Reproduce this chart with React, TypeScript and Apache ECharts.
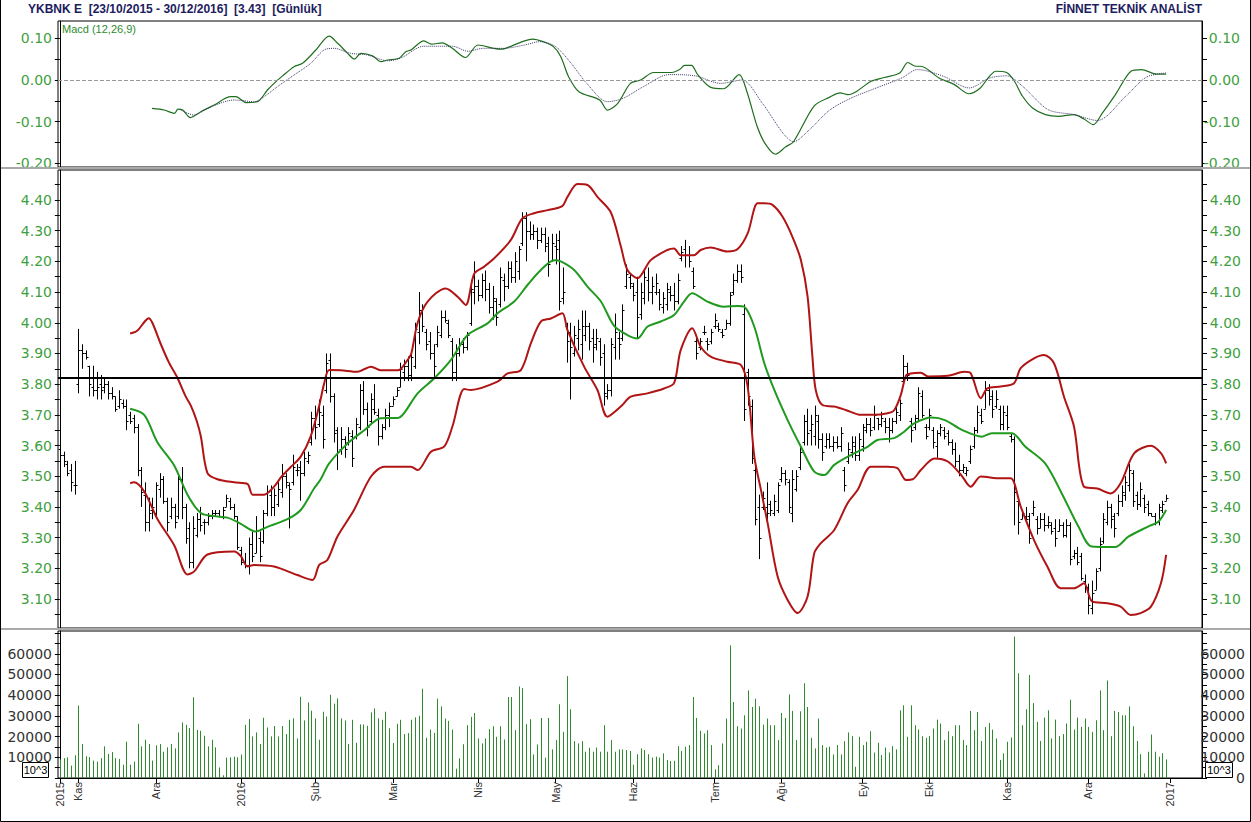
import React, { useEffect, useRef } from 'react';
import * as echarts from 'echarts';

// ---- x axis month ticks (trading-day index) ----
const monthTickIdx = [0, 5, 26, 49, 69, 90, 113, 134, 155, 177, 195, 217, 235, 256, 278, 300];
const monthTickLabels = ['2015', 'Kas', 'Ara', '2016', 'Şub', 'Mar', 'Nis', 'May', 'Haz', 'Tem', 'Ağu', 'Eyl', 'Eki', 'Kas', 'Ara', '2017'];

// ---- y axis ticks ----
const macdLabels = [0.1, 0, -0.1, -0.2];
const macdTicks = [0.1, 0.05, 0, -0.05, -0.1, -0.15, -0.2];
const priceLabels = [3.1, 3.2, 3.3, 3.4, 3.5, 3.6, 3.7, 3.8, 3.9, 4.0, 4.1, 4.2, 4.3, 4.4];
const priceTicks = [3.05, 3.1, 3.15, 3.2, 3.25, 3.3, 3.35, 3.4, 3.45, 3.5, 3.55, 3.6, 3.65, 3.7, 3.75, 3.8, 3.85, 3.9, 3.95, 4.0, 4.05, 4.1, 4.15, 4.2, 4.25, 4.3, 4.35, 4.4, 4.45];
const volLabelsLeft = [10000, 20000, 30000, 40000, 50000, 60000];
const volLabelsRight = [0, 10000, 20000, 30000, 40000, 50000, 60000];
const volTicks = [0, 5000, 10000, 15000, 20000, 25000, 30000, 35000, 40000, 45000, 50000, 55000, 60000, 65000, 70000];

const refLevel = 3.817;

// ---- daily OHLC ----
const openP = [
  3.59,3.57,3.54,3.52,3.47,3.80,3.91,3.90,3.86,3.79,
  3.78,3.80,3.79,3.80,3.77,3.76,3.73,3.74,3.73,3.70,
  3.69,3.66,3.52,3.44,3.35,3.39,3.38,3.46,3.49,3.42,
  3.37,3.40,3.37,3.49,3.40,3.33,3.22,3.31,3.36,3.35,
  3.35,3.37,3.38,3.38,3.37,3.40,3.42,3.40,3.37,3.26,
  3.22,3.21,3.28,3.25,3.30,3.29,3.38,3.44,3.40,3.41,
  3.45,3.50,3.47,3.48,3.52,3.53,3.51,3.55,3.61,3.69,
  3.67,3.70,3.78,3.88,3.76,3.65,3.59,3.62,3.61,3.63,
  3.63,3.66,3.78,3.72,3.68,3.72,3.70,3.63,3.66,3.70,
  3.73,3.76,3.79,3.84,3.86,3.83,3.86,3.97,4.04,3.97,
  3.94,3.90,3.93,3.96,4.02,4.00,3.94,3.84,3.90,3.93,
  3.92,4.00,4.10,4.12,4.09,4.14,4.11,4.05,4.07,4.06,
  4.14,4.12,4.18,4.15,4.17,4.26,4.34,4.30,4.29,4.30,
  4.27,4.29,4.26,4.20,4.25,4.27,4.08,3.99,3.97,3.90,
  3.95,3.93,3.96,3.99,3.95,3.93,3.94,3.90,3.76,3.78,
  3.92,3.95,3.95,4.12,4.15,4.12,4.10,4.03,4.08,4.14,
  4.10,4.10,4.10,4.05,4.06,4.10,4.09,4.07,4.21,4.24,
  4.22,4.17,3.94,3.92,3.97,3.94,3.94,3.99,3.99,3.97,
  3.98,4.00,4.10,4.14,4.17,4.03,3.84,3.73,3.52,3.40,
  3.40,3.40,3.41,3.38,3.39,3.49,3.51,3.48,3.38,3.46,
  3.53,3.61,3.68,3.65,3.63,3.68,3.62,3.60,3.62,3.60,
  3.61,3.60,3.52,3.55,3.58,3.60,3.57,3.60,3.65,3.67,
  3.66,3.69,3.67,3.68,3.66,3.65,3.68,3.70,3.81,3.86,
  3.68,3.66,3.69,3.76,3.66,3.66,3.65,3.60,3.64,3.65,
  3.64,3.61,3.59,3.55,3.52,3.51,3.55,3.60,3.65,3.70,
  3.72,3.78,3.76,3.73,3.72,3.67,3.70,3.63,3.62,3.42,
  3.36,3.37,3.37,3.38,3.36,3.33,3.36,3.34,3.34,3.33,
  3.32,3.34,3.31,3.34,3.24,3.25,3.24,3.16,3.14,3.07,
  3.13,3.20,3.29,3.35,3.40,3.37,3.38,3.42,3.44,3.47,
  3.51,3.44,3.41,3.43,3.41,3.38,3.37,3.35,3.39,3.42
];
const highP = [
  3.60,3.58,3.55,3.54,3.55,3.98,3.93,3.91,3.86,3.86,
  3.84,3.83,3.82,3.81,3.79,3.76,3.78,3.75,3.75,3.71,
  3.70,3.67,3.53,3.48,3.43,3.43,3.48,3.51,3.50,3.43,
  3.43,3.41,3.51,3.53,3.41,3.35,3.37,3.38,3.40,3.36,
  3.38,3.39,3.39,3.39,3.40,3.44,3.43,3.41,3.37,3.27,
  3.25,3.30,3.32,3.37,3.32,3.39,3.47,3.47,3.46,3.48,
  3.54,3.51,3.48,3.57,3.54,3.55,3.58,3.58,3.71,3.73,
  3.75,3.73,3.90,3.90,3.77,3.66,3.66,3.63,3.66,3.65,
  3.69,3.80,3.81,3.74,3.77,3.80,3.72,3.67,3.72,3.74,
  3.76,3.79,3.87,3.88,3.89,3.91,4.00,4.10,4.06,3.98,
  3.97,3.93,3.99,4.04,4.04,4.01,3.95,3.93,3.95,3.95,
  3.97,4.14,4.20,4.14,4.16,4.17,4.13,4.12,4.08,4.18,
  4.16,4.20,4.20,4.23,4.25,4.36,4.36,4.33,4.32,4.31,
  4.31,4.31,4.28,4.29,4.29,4.30,4.18,4.00,4.00,3.99,
  4.01,4.04,4.04,4.00,3.98,3.98,3.95,3.93,3.80,3.95,
  4.03,3.97,4.06,4.19,4.16,4.13,4.15,4.13,4.17,4.18,
  4.15,4.16,4.11,4.10,4.13,4.12,4.13,4.16,4.25,4.27,
  4.25,4.18,3.95,3.95,3.99,3.95,3.98,4.03,4.00,3.98,
  4.01,4.10,4.16,4.19,4.19,4.06,3.85,3.75,3.54,3.44,
  3.45,3.48,3.42,3.44,3.48,3.53,3.52,3.49,3.52,3.52,
  3.60,3.70,3.72,3.70,3.73,3.70,3.64,3.64,3.64,3.63,
  3.63,3.66,3.53,3.61,3.63,3.63,3.64,3.67,3.69,3.69,
  3.73,3.69,3.71,3.69,3.69,3.69,3.73,3.75,3.895,3.87,
  3.69,3.70,3.79,3.78,3.67,3.72,3.66,3.65,3.67,3.66,
  3.65,3.62,3.61,3.57,3.54,3.53,3.60,3.66,3.73,3.72,
  3.81,3.80,3.78,3.78,3.73,3.73,3.73,3.64,3.63,3.43,
  3.39,3.40,3.38,3.42,3.37,3.38,3.38,3.37,3.35,3.36,
  3.36,3.35,3.36,3.35,3.26,3.27,3.25,3.18,3.15,3.16,
  3.20,3.30,3.38,3.42,3.41,3.38,3.44,3.47,3.50,3.54,
  3.52,3.45,3.48,3.44,3.42,3.38,3.38,3.41,3.42,3.44
];
const lowP = [
  3.55,3.53,3.50,3.45,3.44,3.77,3.85,3.88,3.76,3.76,
  3.75,3.75,3.77,3.75,3.75,3.71,3.72,3.72,3.65,3.67,
  3.64,3.50,3.40,3.32,3.32,3.36,3.37,3.43,3.41,3.32,
  3.36,3.33,3.36,3.36,3.28,3.20,3.20,3.30,3.32,3.31,
  3.34,3.36,3.37,3.37,3.36,3.40,3.39,3.36,3.26,3.21,
  3.20,3.18,3.22,3.25,3.22,3.28,3.37,3.37,3.37,3.40,
  3.43,3.46,3.33,3.47,3.50,3.42,3.50,3.54,3.60,3.62,
  3.66,3.59,3.77,3.74,3.61,3.52,3.57,3.56,3.60,3.53,
  3.62,3.65,3.70,3.63,3.67,3.70,3.60,3.62,3.65,3.66,
  3.73,3.76,3.79,3.81,3.81,3.81,3.85,3.93,3.97,3.91,
  3.88,3.82,3.92,3.95,4.00,3.95,3.81,3.81,3.89,3.90,
  3.91,3.99,4.06,4.07,4.08,4.07,4.03,4.01,3.99,4.05,
  4.07,4.11,4.13,4.13,4.14,4.25,4.20,4.27,4.27,4.24,
  4.26,4.23,4.15,4.20,4.19,4.04,4.06,3.87,3.75,3.89,
  3.91,3.88,3.94,3.91,3.87,3.91,3.86,3.73,3.75,3.76,
  3.88,3.88,3.94,4.11,4.11,4.07,3.95,4.01,4.06,4.07,
  4.06,4.09,4.04,4.03,4.04,4.07,4.04,4.06,4.20,4.18,
  4.18,4.11,3.88,3.91,3.96,3.91,3.93,3.98,3.97,3.95,
  3.98,3.99,4.09,4.13,4.13,3.68,3.73,3.54,3.34,3.23,
  3.39,3.35,3.37,3.37,3.38,3.48,3.47,3.38,3.35,3.45,
  3.52,3.60,3.60,3.60,3.60,3.59,3.55,3.59,3.59,3.58,
  3.59,3.58,3.45,3.54,3.56,3.55,3.55,3.58,3.64,3.63,
  3.65,3.65,3.66,3.64,3.61,3.64,3.67,3.68,3.80,3.81,
  3.61,3.65,3.68,3.69,3.62,3.65,3.59,3.56,3.63,3.62,
  3.60,3.57,3.53,3.50,3.51,3.50,3.54,3.59,3.64,3.67,
  3.72,3.73,3.69,3.72,3.65,3.65,3.65,3.61,3.34,3.31,
  3.36,3.35,3.28,3.37,3.31,3.33,3.32,3.33,3.31,3.27,
  3.32,3.30,3.30,3.21,3.23,3.21,3.16,3.12,3.05,3.05,
  3.13,3.19,3.28,3.34,3.33,3.30,3.37,3.40,3.42,3.45,
  3.40,3.39,3.40,3.38,3.37,3.37,3.34,3.34,3.38,3.42
];
const closeP = [
  3.57,3.55,3.51,3.48,3.47,3.91,3.90,3.89,3.80,3.78,
  3.79,3.78,3.80,3.77,3.76,3.72,3.75,3.73,3.68,3.68,
  3.66,3.52,3.45,3.35,3.38,3.40,3.47,3.49,3.42,3.35,
  3.40,3.35,3.49,3.40,3.30,3.22,3.33,3.36,3.34,3.35,
  3.37,3.38,3.38,3.37,3.39,3.43,3.40,3.37,3.27,3.22,
  3.21,3.28,3.24,3.32,3.24,3.38,3.45,3.40,3.44,3.46,
  3.50,3.48,3.46,3.53,3.52,3.51,3.56,3.57,3.69,3.66,
  3.71,3.62,3.87,3.76,3.64,3.58,3.62,3.59,3.64,3.56,
  3.67,3.78,3.72,3.66,3.75,3.71,3.63,3.66,3.70,3.73,
  3.75,3.78,3.85,3.86,3.83,3.89,3.98,4.04,3.99,3.93,
  3.90,3.86,3.97,4.02,4.01,3.96,3.84,3.90,3.93,3.92,
  3.96,4.11,4.12,4.09,4.14,4.11,4.05,4.08,4.02,4.15,
  4.12,4.18,4.15,4.20,4.24,4.34,4.30,4.29,4.30,4.27,
  4.29,4.25,4.19,4.26,4.24,4.07,4.10,3.94,3.92,3.96,
  3.98,3.99,3.99,3.94,3.92,3.95,3.89,3.77,3.78,3.93,
  3.97,3.93,4.04,4.16,4.13,4.09,4.02,4.10,4.15,4.10,
  4.12,4.13,4.06,4.08,4.11,4.09,4.07,4.14,4.23,4.22,
  4.20,4.12,3.90,3.94,3.97,3.93,3.97,4.01,3.98,3.96,
  4.00,4.09,4.14,4.17,4.15,3.72,3.76,3.56,3.36,3.30,
  3.43,3.38,3.39,3.42,3.47,3.51,3.49,3.40,3.49,3.50,
  3.58,3.68,3.64,3.67,3.70,3.62,3.58,3.62,3.60,3.61,
  3.60,3.64,3.47,3.59,3.61,3.57,3.62,3.66,3.67,3.65,
  3.70,3.67,3.69,3.66,3.65,3.68,3.71,3.74,3.86,3.83,
  3.65,3.69,3.77,3.70,3.63,3.70,3.61,3.64,3.66,3.63,
  3.61,3.59,3.55,3.52,3.53,3.52,3.59,3.65,3.71,3.68,
  3.78,3.75,3.72,3.75,3.67,3.71,3.66,3.62,3.45,3.35,
  3.38,3.36,3.30,3.40,3.33,3.36,3.34,3.35,3.32,3.30,
  3.34,3.31,3.34,3.23,3.25,3.22,3.17,3.14,3.08,3.12,
  3.19,3.28,3.36,3.40,3.36,3.33,3.42,3.45,3.48,3.52,
  3.42,3.41,3.46,3.40,3.38,3.37,3.35,3.40,3.41,3.43
];

// ---- daily volume (x10^3) ----
const volume = [
  9000,9600,10000,6000,11000,35000,16400,10500,10100,8400,
  7900,9600,15300,11600,12500,9600,9200,6400,17500,6400,
  7900,26200,15300,18500,16400,8400,15800,16400,12700,14800,
  16400,14300,22000,26800,25700,24100,39000,23200,22800,20400,
  15300,18500,14800,5100,1300,9800,10000,10300,10000,11300,
  25700,28500,20100,22000,16400,29100,24400,20100,25100,20100,
  25100,21200,28100,28800,19100,39200,27800,36500,32500,28800,
  18500,32000,29700,40200,35900,38400,28800,27800,16400,28100,
  17000,25900,25900,25200,31700,33600,28800,28100,32000,24000,
  16900,26200,28100,21200,21700,28100,29300,30000,43100,19400,
  23400,21800,38300,34600,28700,27600,23400,4500,9500,16300,
  25500,29500,31400,19100,16700,19100,23600,25000,19900,25000,
  18600,39100,39100,23100,44200,43400,26000,28400,11400,16200,
  29000,9800,29000,13800,18300,35600,22300,49200,33200,17800,
  16700,17800,12700,14600,12700,14700,12700,25500,12700,18300,
  12700,13800,13800,13500,13100,6400,11500,14300,13500,11500,
  9900,10300,9900,11900,8700,8200,8300,15400,13100,15100,
  15900,39100,29000,22800,21500,23100,15900,4200,6200,16700,
  28700,64100,36700,25000,23900,30300,42300,34300,38300,34600,
  25800,28700,25500,25500,18300,31400,29000,40400,32400,18300,
  32200,45800,34300,19400,14300,28700,15900,14700,15100,11400,
  15900,11400,17800,22000,20200,5400,19900,15900,17500,22600,
  12300,17000,11100,14700,12300,15400,13800,32700,35100,19900,
  35100,25500,23400,20200,19400,20200,23900,28200,26300,18300,
  22600,20200,25500,25500,18300,15900,32400,23100,31900,17900,
  24700,26600,23400,19100,8700,11900,17500,19600,68300,50600,
  25500,33200,49800,36200,27100,17900,29200,32700,19100,28200,
  20200,21200,26300,37800,23400,29200,24700,28700,24700,22300,
  27900,42300,23100,47100,20200,32400,31900,30300,30300,34600,
  25000,17900,11500,2200,12700,21000,12700,10300,12000,9000
];

// ---- Bollinger (20,2): [day index, value] ----
const bbUpper = [
  [19,3.965],[21,3.975],[23,4.005],[24,4.015],[25,4.0],[27.3,3.93],[29.5,3.87],[31.8,3.82],[34,3.76],[35.4,3.73],
  [37,3.68],[38.1,3.63],[39.9,3.51],[42.6,3.49],[47.1,3.48],[50.7,3.475],[52.1,3.44],[55.2,3.44],[57.9,3.466],[60,3.5],
  [62.4,3.53],[65.1,3.564],[67.8,3.63],[70.1,3.73],[71.4,3.8],[72.8,3.846],[75.9,3.845],[80.4,3.84],[84.1,3.857],[86.7,3.845],
  [91.3,3.845],[92.2,3.85],[94,3.879],[95,3.9],[96.7,4.0],[99.4,4.069],[104.3,4.112],[107.5,4.085],[109.7,4.058],[112,4.16],
  [114.7,4.183],[117.4,4.21],[121.9,4.27],[125,4.34],[128.2,4.357],[131.8,4.367],[135.8,4.38],[137.2,4.41],[139.9,4.452],[142.6,4.449],
  [145.3,4.41],[148.9,4.36],[151.6,4.25],[153.4,4.172],[156.1,4.145],[159.7,4.204],[164.2,4.237],[166,4.242],[167.8,4.22],[171.4,4.22],
  [173.2,4.237],[175.9,4.245],[180.4,4.232],[183.2,4.24],[185.9,4.291],[188.6,4.389],[190.4,4.389],[192.6,4.384],[195.3,4.346],[198,4.28],
  [200.3,4.204],[202.1,4.085],[203.4,3.89],[204.3,3.781],[206.1,3.732],[209.3,3.727],[212.4,3.716],[216.5,3.7],[220.1,3.7],[223.7,3.705],
  [225.5,3.715],[227.3,3.765],[228.7,3.828],[230,3.835],[232.7,3.837],[234.7,3.825],[240,3.827],[244.4,3.84],[246.2,3.835],[248.9,3.754],
  [250.7,3.786],[254.3,3.792],[257.9,3.803],[259.7,3.852],[263.3,3.884],[266,3.895],[268.7,3.868],[271.4,3.759],[274.1,3.662],[276.8,3.466],
  [280.4,3.46],[284,3.444],[286.7,3.477],[290.4,3.575],[294.9,3.599],[297.6,3.575],[299,3.542]
];
const bbMid = [
  [19,3.72],[22.8,3.7],[26.4,3.61],[30.9,3.535],[34.5,3.44],[38.1,3.38],[41.7,3.37],[45.3,3.365],[48.9,3.345],[52.9,3.32],
  [56.1,3.335],[61.5,3.36],[65.1,3.39],[68.7,3.46],[70.5,3.49],[72.8,3.542],[77.8,3.607],[82.3,3.65],[86.7,3.689],[91.3,3.69],
  [93,3.705],[96.7,3.77],[101.2,3.819],[105.7,3.879],[110.2,3.96],[115.6,3.998],[118.3,4.031],[122.8,4.069],[126.4,4.123],[130,4.172],
  [133.6,4.204],[135.4,4.2],[139,4.172],[142.6,4.118],[146.2,4.07],[149.8,3.99],[153.4,3.96],[156.1,3.949],[158.8,3.987],[162.4,4.004],
  [166,4.025],[168.7,4.069],[170.9,4.096],[175,4.069],[179.5,4.052],[183.2,4.055],[185,4.052],[187.7,3.987],[190.4,3.868],[193.1,3.781],
  [196.7,3.683],[200.3,3.596],[203.9,3.515],[206.6,3.504],[209.3,3.537],[213.8,3.569],[218.3,3.596],[221,3.618],[225.5,3.624],[228.2,3.645],
  [230.9,3.672],[235.6,3.691],[239.2,3.683],[243.8,3.651],[249.2,3.629],[251.9,3.64],[257.3,3.64],[260.9,3.597],[266.3,3.542],[270.8,3.444],
  [275.3,3.336],[278.9,3.271],[285.2,3.269],[288.8,3.303],[294.1,3.336],[296.9,3.352],[299,3.39]
];
const bbLower = [
  [19,3.477],[20,3.48],[22.8,3.45],[26.4,3.36],[30.9,3.275],[34.5,3.18],[36.3,3.19],[39.9,3.245],[47.1,3.255],[48.9,3.24],
  [50.7,3.206],[52.5,3.211],[57.9,3.206],[64.2,3.178],[68.3,3.162],[70.1,3.211],[72.3,3.227],[75,3.303],[79.5,3.39],[84.1,3.499],
  [87.7,3.531],[94.9,3.531],[96.7,3.52],[100.3,3.58],[103.9,3.597],[106.1,3.662],[109.3,3.784],[111.1,3.781],[118.3,3.808],[121,3.835],
  [124.6,3.846],[127.3,3.933],[130,4.004],[132.7,4.014],[135.8,4.031],[137.2,3.976],[141.7,3.857],[145.3,3.781],[148,3.694],[151.6,3.727],
  [154.3,3.759],[158.8,3.77],[163.3,3.786],[166,3.803],[167.8,3.911],[170.9,3.982],[173.2,3.922],[175.9,3.89],[180.4,3.873],[184.1,3.862],
  [185.9,3.792],[187.7,3.564],[189.5,3.455],[191.3,3.347],[194,3.173],[196.7,3.097],[199.4,3.054],[202.1,3.108],[203.9,3.249],[205.7,3.282],
  [209.3,3.325],[212.9,3.412],[215.6,3.455],[219.2,3.531],[223.7,3.531],[226.4,3.526],[228.7,3.488],[230.5,3.49],[232.7,3.52],[236.4,3.558],
  [240,3.548],[243.6,3.504],[246.2,3.466],[248.9,3.499],[254.3,3.493],[257,3.493],[259.7,3.401],[263.3,3.292],[266.9,3.206],[270.5,3.135],
  [274.1,3.135],[276.8,3.151],[279,3.092],[283.1,3.086],[286.7,3.075],[289.4,3.048],[292.1,3.054],[294.9,3.075],[297.6,3.151],[299,3.244]
];

// ---- MACD (12,26,9): [day index, value] ----
const macdLine = [
  [24.9,-0.068],[28.2,-0.072],[31,-0.08],[31.9,-0.07],[33.2,-0.072],[35.3,-0.09],[38.1,-0.076],[41.7,-0.06],[46.2,-0.04],[47.6,-0.04],
  [50.3,-0.054],[53.4,-0.052],[56.1,-0.024],[57.9,-0.008],[60.2,0.01],[63.3,0.032],[65.6,0.04],[69.2,0.072],[72.8,0.105],[75.1,0.088],
  [77.8,0.064],[79.6,0.05],[81.4,0.064],[84.5,0.058],[86.8,0.044],[88.6,0.048],[91.7,0.052],[93.5,0.068],[94.9,0.072],[98.4,0.094],
  [100.5,0.086],[103.3,0.089],[106.1,0.076],[109.6,0.054],[113,0.084],[117.3,0.076],[119.4,0.074],[122.2,0.082],[125.6,0.094],[127.8,0.098],
  [130.6,0.092],[133.4,0.08],[135.4,0.056],[137.5,0.008],[140.3,-0.028],[145.9,-0.048],[148,-0.072],[150.8,-0.056],[154.2,-0.008],[157,0.0],
  [160.5,0.018],[165.4,0.018],[167.5,0.025],[168.9,0.035],[170.7,0.035],[172.4,0.013],[175.8,-0.017],[179.4,-0.021],[183.6,0.013],[185.7,-0.028],
  [188.5,-0.112],[190.6,-0.152],[193.4,-0.178],[196.2,-0.16],[198.3,-0.148],[203.9,-0.062],[208.1,-0.041],[210.9,-0.031],[213,-0.035],[215.2,-0.028],
  [219.3,-0.003],[222.8,0.006],[227,0.017],[229.2,0.042],[231.3,0.033],[232.7,0.033],[237.6,0.005],[241.8,-0.011],[245.7,-0.033],[248.8,-0.019],
  [250.9,0.005],[253,0.021],[255.9,0.018],[258,-0.003],[260.2,-0.039],[262.9,-0.067],[266.4,-0.083],[269.9,-0.087],[274.1,-0.083],[276.9,-0.094],
  [279.3,-0.107],[281.8,-0.079],[285.3,-0.035],[289.5,0.021],[292.3,0.025],[296.5,0.014],[299,0.014]
];
const macdSignal = [
  [32.7,-0.072],[36.3,-0.084],[39.9,-0.068],[47.1,-0.048],[52.5,-0.052],[55.2,-0.04],[58.8,-0.016],[63.3,0.012],[67.8,0.04],[71.4,0.072],
  [74.1,0.076],[78.6,0.064],[83.1,0.06],[88.6,0.046],[92.2,0.053],[98.4,0.081],[106.1,0.081],[110.3,0.069],[114.4,0.076],[120,0.076],
  [125.6,0.084],[129.8,0.092],[134,0.08],[138.2,0.04],[142.4,-0.008],[148,-0.052],[152.2,-0.044],[157.7,-0.016],[164.7,0.013],[171.7,0.01],
  [178.6,-0.008],[184.3,0.0],[189.9,-0.056],[195.5,-0.128],[198.3,-0.148],[202.5,-0.12],[208.1,-0.072],[213.7,-0.044],[220.7,-0.019],[227.6,0.005],
  [231.8,0.025],[238.8,0.009],[245.8,-0.019],[251.4,0.005],[255.9,0.01],[260.2,-0.015],[267.1,-0.071],[274.1,-0.083],[280.4,-0.097],[288.1,-0.039],
  [293.7,0.007],[299,0.017]
];

const FONT = 'Liberation Sans';
const AXFONT = 'DejaVu Sans';
const GREEN_LABEL = '#3f9f3f';
const X_MIN = -0.5;
const X_MAX = 308.7;

export default function App() {
  const ref = useRef<HTMLDivElement>(null);
  useEffect(() => {
    const chart = echarts.init(ref.current as HTMLDivElement, null, { renderer: 'svg' });

    const ohlcData = openP.map((o, i) => [i, o, highP[i], lowP[i], closeP[i]]);
    const volData = volume.map((v, i) => [i, v]);

    const labelMap: Record<string, string> = {};
    monthTickIdx.forEach((v, k) => { labelMap[String(v)] = monthTickLabels[k]; });

    const hiddenX = (gi: number) => ({
      type: 'value', gridIndex: gi, min: X_MIN, max: X_MAX,
      axisLine: { show: false }, axisTick: { show: false }, axisLabel: { show: false }, splitLine: { show: false },
    });

    const yAx = (gi: number, pos: 'left' | 'right', min: number, max: number, labels: number[], ticks: number[], fmt: (v: number) => string, color: string, rMargin: number) => ({
      type: 'value', gridIndex: gi, position: pos, min, max,
      axisLine: { show: true, lineStyle: { color: '#000', width: 1 } },
      axisTick: { show: true, customValues: ticks, length: 5, lineStyle: { color: '#000' } },
      axisLabel: {
        customValues: labels, formatter: (v: number) => fmt(v),
        color, fontFamily: AXFONT, fontSize: 14,
        margin: pos === 'left' ? 6 : rMargin, align: 'right',
      },
      splitLine: { show: false },
    });

    const fmt2 = (v: number) => (Math.abs(v) < 1e-9 ? '0.00' : v.toFixed(2));
    const fmt0 = (v: number) => String(Math.round(v));

    const gridBase = { left: 58, width: 1144, show: true, borderColor: '#000', borderWidth: 1, containLabel: false, outerBoundsMode: 'none' };

    const option: any = {
      animation: false,
      backgroundColor: '#ffffff',
      textStyle: { fontFamily: AXFONT },
      grid: [
        { ...gridBase, top: 21, height: 146 },
        { ...gridBase, top: 170, height: 458 },
        { ...gridBase, top: 631, height: 147 },
      ],
      xAxis: [
        hiddenX(0),
        hiddenX(1),
        {
          type: 'value', gridIndex: 2, min: X_MIN, max: X_MAX,
          axisLine: { show: true, lineStyle: { color: '#000' } },
          axisTick: { show: true, customValues: monthTickIdx, length: 5, lineStyle: { color: '#000' } },
          axisLabel: {
            customValues: monthTickIdx, rotate: 90, margin: 4,
            formatter: (v: number) => labelMap[String(Math.round(v))] || '',
            color: '#333', fontFamily: FONT, fontSize: 11,
          },
          splitLine: { show: false },
        },
      ],
      yAxis: [
        yAx(0, 'left', -0.2086, 0.1415, macdLabels, macdTicks, fmt2, GREEN_LABEL, 38),
        yAx(0, 'right', -0.2086, 0.1415, macdLabels, macdTicks, fmt2, GREEN_LABEL, 38),
        yAx(1, 'left', 3.0055, 4.4977, priceLabels, priceTicks, fmt2, GREEN_LABEL, 39),
        yAx(1, 'right', 3.0055, 4.4977, priceLabels, priceTicks, fmt2, GREEN_LABEL, 39),
        yAx(2, 'left', 0, 71000, volLabelsLeft, volTicks, fmt0, '#333', 43),
        yAx(2, 'right', 0, 71000, volLabelsRight, volTicks, fmt0, '#333', 43),
      ],
      series: [
        {
          name: 'macd', type: 'line', xAxisIndex: 0, yAxisIndex: 0, data: macdLine,
          showSymbol: false, smooth: 0.3, lineStyle: { color: '#1f6e1f', width: 1.2 },
          markLine: {
            silent: true, symbol: 'none', label: { show: false },
            lineStyle: { color: '#999', type: 'dashed', width: 1 }, data: [{ yAxis: 0 }],
          },
        },
        {
          name: 'signal', type: 'line', xAxisIndex: 0, yAxisIndex: 0, data: macdSignal,
          showSymbol: false, smooth: 0.3, lineStyle: { color: '#3a3a6a', width: 1, type: 'dotted' },
        },
        {
          name: 'upper', type: 'line', xAxisIndex: 1, yAxisIndex: 2, data: bbUpper,
          showSymbol: false, smooth: 0.3, lineStyle: { color: '#b01414', width: 2 },
          markLine: {
            silent: true, symbol: 'none', label: { show: false },
            lineStyle: { color: '#000', type: 'solid', width: 2 }, data: [{ yAxis: refLevel }],
          },
        },
        {
          name: 'mid', type: 'line', xAxisIndex: 1, yAxisIndex: 2, data: bbMid,
          showSymbol: false, smooth: 0.3, lineStyle: { color: '#1f9a1f', width: 2 },
        },
        {
          name: 'lower', type: 'line', xAxisIndex: 1, yAxisIndex: 2, data: bbLower,
          showSymbol: false, smooth: 0.3, lineStyle: { color: '#b01414', width: 2 },
        },
        {
          name: 'ohlc', type: 'custom', xAxisIndex: 1, yAxisIndex: 2, data: ohlcData,
          encode: { x: 0, y: [1, 2, 3, 4] },
          renderItem: (params: any, api: any) => {
            const i = api.value(0);
            const pO = api.coord([i, api.value(1)]);
            const pH = api.coord([i, api.value(2)]);
            const pL = api.coord([i, api.value(3)]);
            const pC = api.coord([i, api.value(4)]);
            const cx = Math.round(pH[0]) + 0.5;
            const st = { stroke: '#000', lineWidth: 1 };
            return {
              type: 'group',
              children: [
                { type: 'line', shape: { x1: cx, y1: pH[1], x2: cx, y2: pL[1] }, style: st },
                { type: 'line', shape: { x1: cx - 2, y1: Math.round(pO[1]) + 0.5, x2: cx, y2: Math.round(pO[1]) + 0.5 }, style: st },
                { type: 'line', shape: { x1: cx, y1: Math.round(pC[1]) + 0.5, x2: cx + 2, y2: Math.round(pC[1]) + 0.5 }, style: st },
              ],
            };
          },
          z: 3,
        },
        {
          name: 'volume', type: 'custom', xAxisIndex: 2, yAxisIndex: 4, data: volData,
          encode: { x: 0, y: 1 },
          renderItem: (params: any, api: any) => {
            const i = api.value(0);
            const top = api.coord([i, api.value(1)]);
            const base = api.coord([i, 0]);
            const x = Math.round(top[0]) + 0.5;
            return { type: 'line', shape: { x1: x, y1: base[1], x2: x, y2: top[1] }, style: { stroke: '#2e8b2e', lineWidth: 1 } };
          },
        },
      ],
      graphic: [
        { type: 'rect', shape: { x: 0, y: 167, width: 1251, height: 2 }, style: { fill: '#a9a9a9' }, z: 50 },
        { type: 'rect', shape: { x: 0, y: 628, width: 1251, height: 2 }, style: { fill: '#a9a9a9' }, z: 50 },
        { type: 'polyline', shape: { points: [[0.5, 0], [0.5, 821.5], [1250.5, 821.5], [1250.5, 0]] }, style: { fill: 'none', stroke: '#000', lineWidth: 1 }, z: 50 },
        {
          type: 'text', x: 28, y: 3, z: 50,
          style: { text: 'YKBNK E  [23/10/2015 - 30/12/2016]  [3.43]  [Günlük]', fill: '#1c1c5e', fontFamily: FONT, fontSize: 12, fontWeight: 'bold' },
        },
        {
          type: 'text', x: 1202, y: 3, z: 50,
          style: { text: 'FİNNET TEKNİK ANALİST', fill: '#1c1c5e', fontFamily: FONT, fontSize: 12, fontWeight: 'bold', align: 'right' },
        },
        {
          type: 'text', x: 62, y: 23, z: 50,
          style: { text: 'Macd (12,26,9)', fill: '#2e8b2e', fontFamily: FONT, fontSize: 11 },
        },
        { type: 'rect', shape: { x: 22.5, y: 762.5, width: 26, height: 15 }, style: { fill: '#fff', stroke: '#000', lineWidth: 1 }, z: 60 },
        { type: 'text', x: 35.5, y: 764, z: 61, style: { text: '10^3', fill: '#000', fontFamily: FONT, fontSize: 11, align: 'center' } },
        { type: 'rect', shape: { x: 1205.5, y: 762.5, width: 27, height: 15 }, style: { fill: '#fff', stroke: '#000', lineWidth: 1 }, z: 60 },
        { type: 'text', x: 1219, y: 764, z: 61, style: { text: '10^3', fill: '#000', fontFamily: FONT, fontSize: 11, align: 'center' } },
      ],
    };

    chart.setOption(option);
    return () => chart.dispose();
  }, []);

  return <div ref={ref} style={{ position: 'absolute', left: 0, top: 0, width: 1251, height: 822, background: '#fff' }} />;
}
